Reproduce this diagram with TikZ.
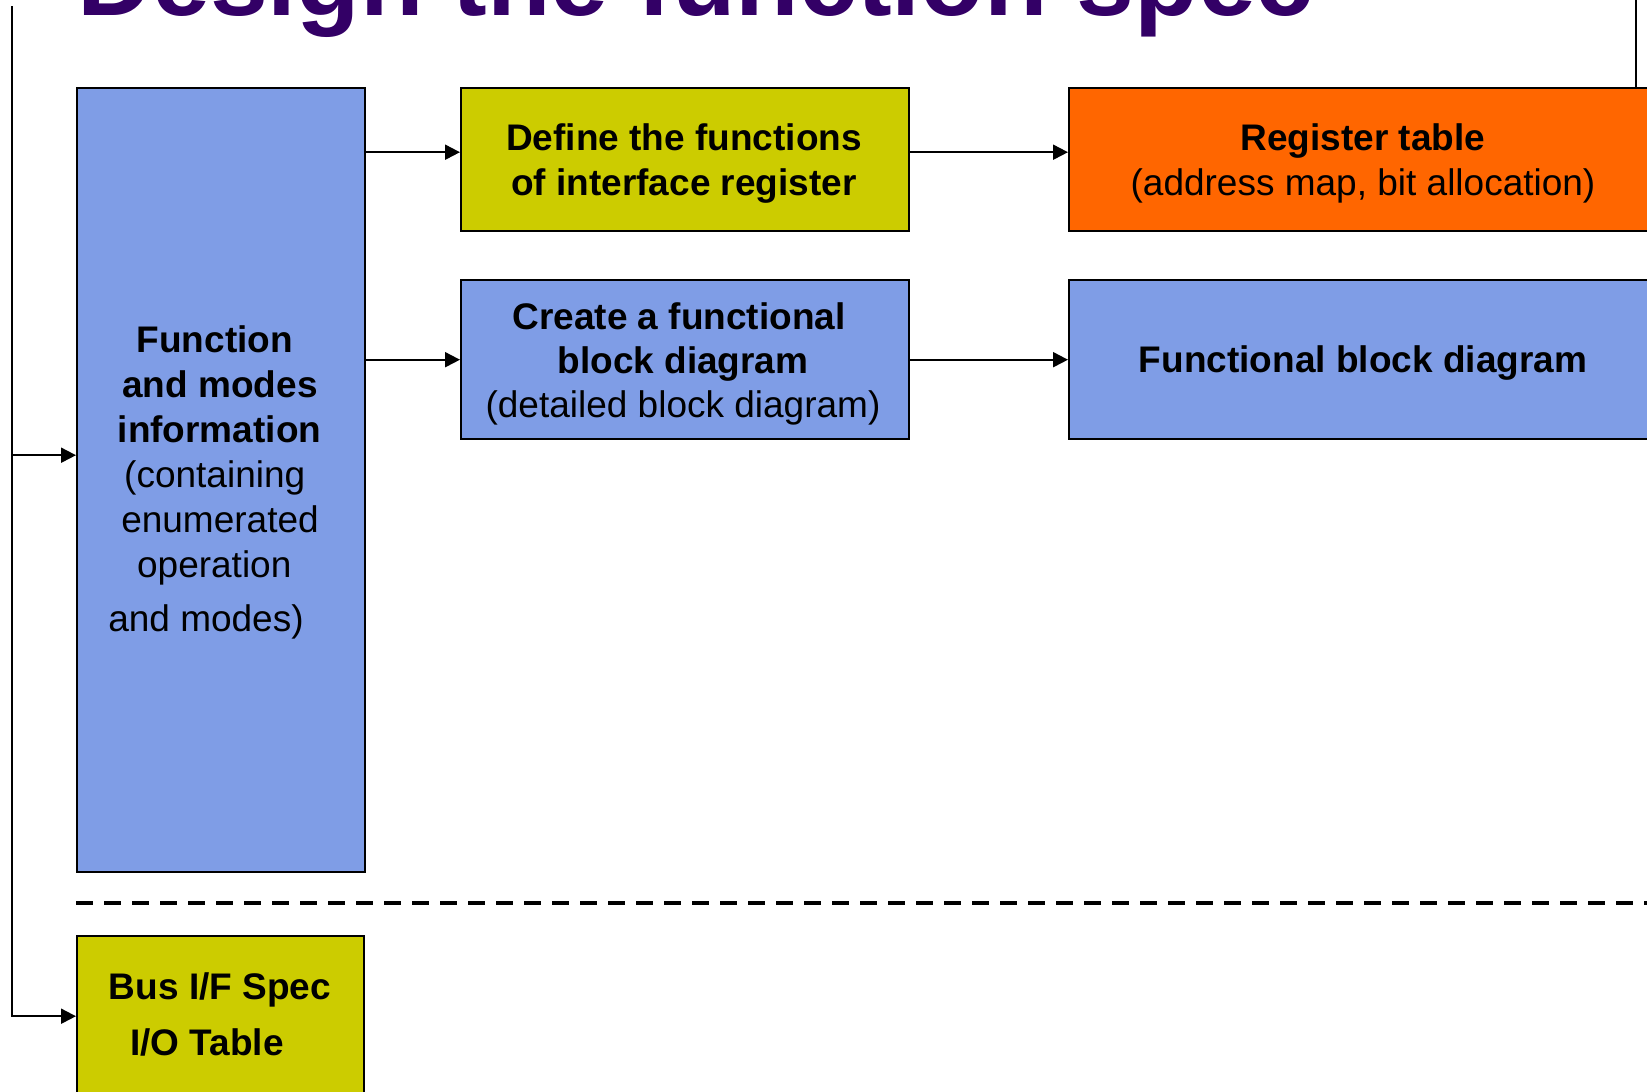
\documentclass[tikz,border=0pt]{standalone}
\usepackage{fontspec}
\setmainfont{Liberation Sans}
\usetikzlibrary{arrows.meta}

\definecolor{boxblue}{RGB}{127,157,230}
\definecolor{boxyellow}{RGB}{204,204,0}
\definecolor{boxorange}{RGB}{255,102,0}
\definecolor{titlepurple}{RGB}{51,0,102}

% invisible trailing pad that nudges a centred line to the left
\newcommand{\padR}[1]{\rule{#1}{0pt}}

\begin{document}
\begin{tikzpicture}[x=1pt,y=-1pt,
  box/.style={draw=black, line width=2.4pt, anchor=north west, inner sep=0pt},
  txt/.style={anchor=base, align=center, inner sep=0pt, text=black,
              font=\fontsize{37}{45}\selectfont},
  link/.style={line width=2pt, draw=black},
  arr/.style={link, -{Triangle[length=15pt,width=15pt]}},
  divider/.style={line width=3.5pt, dash pattern=on 17pt off 11pt}]

\useasboundingbox (0,0) rectangle (1647,1092);
\clip (0,0) rectangle (1647,1092);

% heading, partly above the top edge
\node[anchor=base west, inner sep=0pt, text=titlepurple,
      font=\fontsize{104}{110}\selectfont\bfseries] (title) at (77,16)
      {Design the function spec};

% boxes
\node[box, fill=boxblue,   minimum width=288pt, minimum height=784pt] (big)    at (76,87)   {};
\node[box, fill=boxyellow, minimum width=448pt, minimum height=143pt] (define) at (460,87)  {};
\node[box, fill=boxorange, minimum width=600pt, minimum height=143pt] (reg)    at (1068,87) {};
\node[box, fill=boxblue,   minimum width=448pt, minimum height=159pt] (create) at (460,279) {};
\node[box, fill=boxblue,   minimum width=600pt, minimum height=159pt] (fbd)    at (1068,279){};
\node[box, fill=boxyellow, minimum width=287pt, minimum height=160pt] (bus)    at (76,935)  {};

% box texts (anchored at the baseline of the last line)
\node[txt] (bigtext) at (220,631)
  {\textbf{Function}\padR{10.5pt}\\
   \textbf{and modes}\\
   \textbf{information}\padR{1pt}\\
   (containing\padR{10.5pt}\\
   enumerated\\
   operation\padR{11.5pt}\\[9pt]
   and modes)\padR{28pt}};
\node[txt] (definetext) at (684,195)
  {\textbf{Define the functions}\\ \textbf{of interface register}};
\node[txt] (regtext) at (1363,195)
  {\textbf{Register table}\\ (address map, bit allocation)};
\node[txt, font=\fontsize{37}{44}\selectfont] (createtext) at (683,417)
  {\textbf{Create a functional}\padR{8pt}\\ \textbf{block diagram}\\ (detailed block diagram)};
\node[txt] (fbdtext) at (1363,372)
  {\textbf{Functional block diagram}};
\node[txt] (bustext) at (220,1055)
  {\textbf{Bus I/F Spec}\\[11pt] \textbf{I/O Table}\padR{26pt}};

% feed lines
\coordinate (feed) at (12,6);
\coordinate (feedR) at (1636,-10);
\draw[arr] (feed) |- ([yshift=25pt]big.west);
\draw[arr] (feed) |- (bus.west);
\draw[link] (feedR) -- (feedR |- reg.north);

% flow arrows
\draw[arr] ([yshift=7.5pt]define.west -| big.east) -- ([yshift=7.5pt]define.west);
\draw[arr] ([yshift=7.5pt]define.east) -- ([yshift=7.5pt]reg.west);
\draw[arr] (create.west -| big.east) -- (create.west);
\draw[arr] (create.east) -- (fbd.west);

% divider
\coordinate (divL) at (76,903);
\coordinate (divR) at (1660,903);
\draw[divider] (divL) -- (divR);

\end{tikzpicture}
\end{document}
